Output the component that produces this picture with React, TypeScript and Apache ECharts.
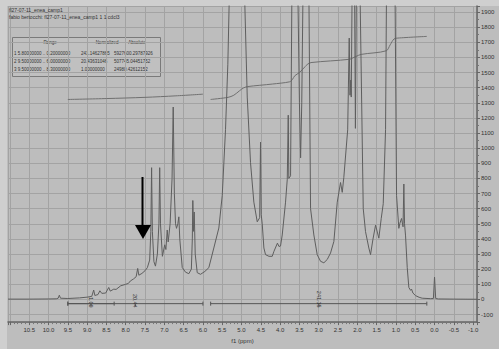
import React, { useEffect, useRef } from "react";
import * as echarts from "echarts";

// ---- data ----
const ppm = [
  11.05, 10.5, 10.0, 9.8, 9.75, 9.72, 9.69, 9.5, 9.2, 9.0, 8.88, 8.83, 8.8, 8.72, 8.67, 8.62, 8.52, 8.44, 8.4, 8.31,
  8.25, 8.13, 8.0, 7.93, 7.88, 7.8, 7.73, 7.69, 7.66, 7.58, 7.5, 7.44, 7.38, 7.35, 7.33, 7.31, 7.27, 7.23, 7.18, 7.14,
  7.12, 7.1, 7.05, 6.99, 6.96, 6.925, 6.9, 6.85, 6.8, 6.77, 6.74, 6.71, 6.684, 6.65, 6.624, 6.6, 6.536, 6.45, 6.365, 6.3,
  6.275, 6.262, 6.245, 6.225, 6.2, 6.148, 6.062, 5.95, 5.847, 5.718, 5.588, 5.5, 5.415, 5.355, 5.3, 5.12, 4.94, 4.852, 4.767, 4.681,
  4.593, 4.53, 4.508, 4.49, 4.464, 4.421, 4.378, 4.29, 4.205, 4.16, 4.07, 4.03, 3.99, 3.946, 3.86, 3.815, 3.79, 3.775, 3.73, 3.69,
  3.62, 3.55, 3.5, 3.47, 3.44, 3.4, 3.33, 3.26, 3.212, 3.126, 3.04, 2.953, 2.867, 2.78, 2.694, 2.608, 2.52, 2.435, 2.391, 2.35,
  2.25, 2.21, 2.19, 2.17, 2.158, 2.13, 2.1, 2.075, 2.05, 2.02, 1.98, 1.94, 1.847, 1.788, 1.702, 1.658, 1.598, 1.528, 1.443, 1.381,
  1.329, 1.269, 1.24, 1.15, 1.05, 1.028, 0.984, 0.925, 0.899, 0.855, 0.816, 0.795, 0.777, 0.751, 0.707, 0.666, 0.62, 0.596, 0.56, 0.492,
  0.4, 0.319, 0.1, 0.03, 0.0, -0.03, -0.1, -0.5, -1.1,
];
const intensity = [
  2, 2, 3, 4, 8, 28, 8, 6, 10, 15, 20, 62, 26, 32, 57, 40, 42, 79, 55, 68,
  66, 90, 100, 106, 122, 135, 150, 205, 160, 172, 190, 210, 260, 450, 871, 450, 250, 220, 300, 500,
  871, 500, 285, 361, 330, 459, 380, 500, 800, 1272, 700, 500, 470, 500, 546, 400, 211, 180, 170, 200,
  400, 654, 450, 578, 300, 177, 166, 185, 210, 340, 472, 687, 1122, 1555, 2200, 6000, 2200, 1338, 904, 643,
  513, 540, 1040, 560, 500, 340, 296, 285, 285, 318, 372, 350, 353, 426, 643, 795, 1218, 800, 817, 2200,
  5000, 2200, 1300, 936, 1300, 2200, 5000, 2200, 600, 426, 296, 252, 242, 264, 307, 383, 643, 773, 708, 806,
  1121, 1728, 1350, 1450, 1338, 2200, 3000, 2200, 1131, 2200, 5000, 2200, 600, 448, 340, 296, 394, 491, 405, 535,
  633, 1122, 2200, 6000, 2500, 2200, 687, 470, 502, 535, 480, 763, 500, 420, 210, 79, 60, 68, 42, 25,
  14, 8, 5, 6, 148, 6, 3, 2, 1,
];

// integral curves
const integralAPpm = [9.5, 8.5, 7.5, 6.7, 6.0];
const integralAVal = [1322, 1328, 1336, 1346, 1357];
const integralBPpm = [5.8, 5.35, 5.2, 5.05, 4.95, 4.85, 4.2, 3.75, 3.68, 3.62, 3.5, 3.35, 3.3, 3.2, 2.2, 2.05, 1.9, 1.25, 1.15, 1.05, 0.95, 0.2];
const integralBVal = [1322, 1336, 1350, 1380, 1398, 1407, 1424, 1439, 1455, 1479, 1500, 1540, 1553, 1566, 1588, 1605, 1620, 1644, 1683, 1722, 1728, 1739];

// integration ranges
const rangeFrom = [9.5, 9.5, 5.8];
const rangeTo = [8.3, 6.0, 0.2];
const rangeLabels = ["1.00", "20.44", "241.15"];

// integral table
const tableHeader = ["Range", "Normalized", "Absolute"];
const tableRange = ["1 5.80000000 .. 0.20000000", "2 9.50000000 .. 6.00000000", "3 9.50000000 .. 8.30000000"];
const tableNormalized = ["241.14627865", "20.43631046", "1.00000000"];
const tableAbsolute = ["5927600.29787926", "507745.04451752", "24980.42612152"];

const titleLines = ["fl27-07-11_enea_camp1", "fabio bertocchi: fl27-07-11_enea_camp1 1 1 cdcl3"];

const FONT = "'Liberation Sans', Arial, sans-serif";
const BG = "#bdbdbd";
const GRIDC = "#a3a3a3";
const TXT = "#333333";

export default function App() {
  const ref = useRef<HTMLDivElement>(null);
  useEffect(() => {
    if (!ref.current) return;
    const chart = echarts.init(ref.current, null, { renderer: "svg" });

    const xFormatter = (v: number) => {
      if (Math.abs(v * 2 - Math.round(v * 2)) > 1e-6) return "";
      if (v > 10.75) return "";
      return v.toFixed(1);
    };
    const yFormatter = (v: number) => {
      if (Math.abs(v / 100 - Math.round(v / 100)) > 1e-6) return "";
      return String(Math.round(v));
    };

    const tableTexts: any[] = [];
    const hx = [50, 107, 137];
    const tfs = 4.5;
    tableHeader.forEach((h, i) =>
      tableTexts.push({ type: "text", x: hx[i], y: 42, style: { text: h, fontSize: tfs, fill: TXT, align: "center", verticalAlign: "middle", fontFamily: FONT } })
    );
    const rowY = [53, 61.5, 69.5];
    tableRange.forEach((r, i) => {
      tableTexts.push({ type: "text", x: 14, y: rowY[i], style: { text: r, fontSize: tfs, fill: TXT, align: "left", verticalAlign: "middle", fontFamily: FONT } });
      tableTexts.push({ type: "text", x: 81, y: rowY[i], style: { text: tableNormalized[i], fontSize: tfs, fill: TXT, align: "left", verticalAlign: "middle", fontFamily: FONT } });
      tableTexts.push({ type: "text", x: 114, y: rowY[i], style: { text: tableAbsolute[i], fontSize: tfs, fill: TXT, align: "left", verticalAlign: "middle", fontFamily: FONT } });
    });

    const option: any = {
      animation: false,
      backgroundColor: BG,
      textStyle: { fontFamily: FONT },
      grid: { left: 8, right: 22, top: 6, bottom: 20 },
      xAxis: {
        type: "value",
        inverse: true,
        min: -1.1,
        max: 11.05,
        splitNumber: 24,
        name: "f1 (ppm)",
        nameLocation: "middle",
        nameGap: 9,
        nameTextStyle: { fontSize: 6, color: TXT, fontFamily: FONT },
        axisLine: { onZero: false, lineStyle: { color: "#666", width: 1.5 } },
        axisTick: { show: true, length: 3, lineStyle: { color: "#666" } },
        minorTick: { show: true, splitNumber: 5, length: 2, lineStyle: { color: "#777" } },
        axisLabel: { fontSize: 6, color: TXT, margin: 5, formatter: xFormatter, fontFamily: FONT },
        splitLine: { show: true, lineStyle: { color: GRIDC, width: 1 } },
      },
      yAxis: {
        type: "value",
        position: "right",
        min: -150,
        max: 1940,
        splitNumber: 21,
        axisLine: { show: true, onZero: false, lineStyle: { color: "#666", width: 1.5 } },
        axisTick: { show: true, length: 3, lineStyle: { color: "#666" } },
        minorTick: { show: true, splitNumber: 2, length: 2, lineStyle: { color: "#777" } },
        axisLabel: { fontSize: 6, color: TXT, margin: 4, formatter: yFormatter, fontFamily: FONT },
        splitLine: { show: true, lineStyle: { color: GRIDC, width: 1 } },
      },
      graphic: [
        { type: "rect", z: -10, shape: { x: 0, y: 0, width: 499, height: 6 }, style: { fill: "#cfcfcf" }, silent: true },
        { type: "rect", z: -10, shape: { x: 0, y: 0, width: 7, height: 349 }, style: { fill: "#cfcfcf" }, silent: true },
        { type: "text", x: 9, y: 10, z: 50, style: { text: titleLines[0], fontSize: 5, fill: TXT, verticalAlign: "middle", fontFamily: FONT } },
        { type: "text", x: 9, y: 17, z: 50, style: { text: titleLines[1], fontSize: 5, fill: TXT, verticalAlign: "middle", fontFamily: FONT } },
        {
          type: "group",
          z: 50,
          children: [
            { type: "rect", shape: { x: 12.5, y: 37.5, width: 148, height: 39 }, style: { fill: "rgba(255,255,255,0.06)", stroke: "#7a7a7a", lineWidth: 1 } },
            ...tableTexts,
          ],
        },
        { type: "line", z: 60, shape: { x1: 142.5, y1: 177, x2: 142.5, y2: 227 }, style: { stroke: "#000", lineWidth: 2 } },
        { type: "polygon", z: 60, shape: { points: [[135, 225], [151, 225], [143, 239]] }, style: { fill: "#000" } },
      ],
      series: [
        {
          type: "line",
          data: ppm.map((p, i) => [p, intensity[i]]),
          showSymbol: false,
          symbol: "none",
          clip: true,
          lineStyle: { color: "#5e5e5e", width: 1 },
          z: 5,
        },
        {
          type: "line",
          data: integralAPpm.map((p, i) => [p, integralAVal[i]]),
          showSymbol: false,
          symbol: "none",
          smooth: 0.3,
          lineStyle: { color: "#707070", width: 1 },
          z: 4,
        },
        {
          type: "line",
          data: integralBPpm.map((p, i) => [p, integralBVal[i]]),
          showSymbol: false,
          symbol: "none",
          smooth: 0.3,
          lineStyle: { color: "#707070", width: 1 },
          z: 4,
        },
        {
          type: "custom",
          z: 6,
          clip: false,
          encode: { x: [0, 1] },
          data: rangeFrom.map((f, i) => [f, rangeTo[i], i]),
          renderItem: (params: any, api: any) => {
            const from = api.value(0);
            const to = api.value(1);
            const idx = params.dataIndex;
            const yv = -28;
            const p1 = api.coord([from, yv]);
            const p2 = api.coord([to, yv]);
            const m = api.coord([(from + to) / 2, yv]);
            const st = { stroke: "#555", lineWidth: 1 };
            return {
              type: "group",
              children: [
                { type: "line", shape: { x1: p1[0], y1: p1[1], x2: p2[0], y2: p2[1] }, style: st },
                { type: "line", shape: { x1: p1[0], y1: p1[1] - 2, x2: p1[0], y2: p1[1] + 2 }, style: st },
                { type: "line", shape: { x1: p2[0], y1: p2[1] - 2, x2: p2[0], y2: p2[1] + 2 }, style: st },
                { type: "line", shape: { x1: m[0], y1: m[1], x2: m[0], y2: m[1] + 3 }, style: st },
                {
                  type: "text",
                  x: m[0],
                  y: m[1] + 4,
                  rotation: -Math.PI / 2,
                  style: { text: rangeLabels[idx], fontSize: 5.5, fill: TXT, align: "right", verticalAlign: "middle", fontFamily: FONT },
                },
              ],
            };
          },
        },
      ],
    };
    chart.setOption(option);
    return () => chart.dispose();
  }, []);

  return <div ref={ref} style={{ position: "fixed", left: 0, top: 0, width: 499, height: 349 }} />;
}
